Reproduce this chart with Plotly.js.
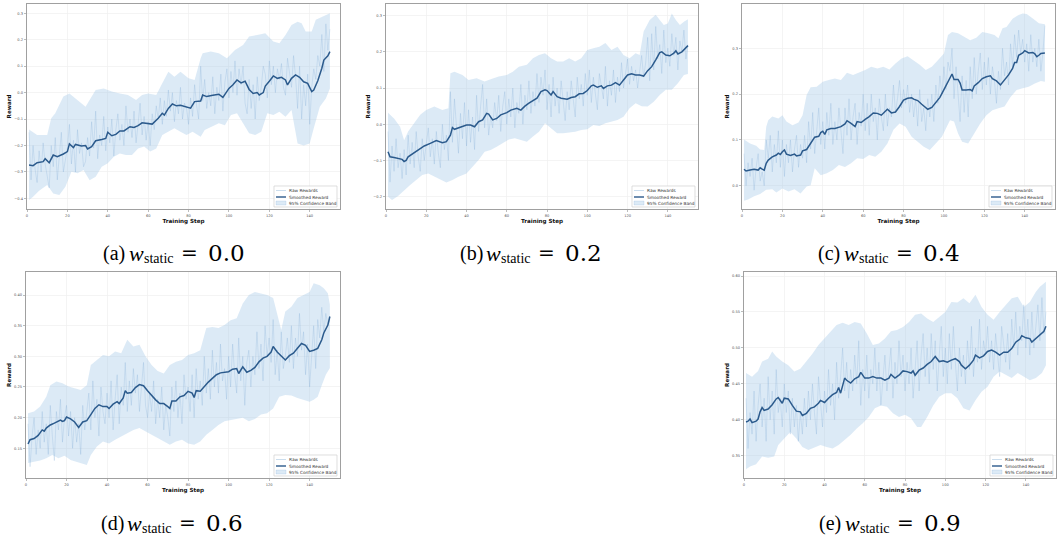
<!DOCTYPE html>
<html><head><meta charset="utf-8">
<script src="https://cdn.plot.ly/plotly-3.0.1.min.js"></script>
<style>html,body{margin:0;padding:0;background:#fff}#chart{width:1057px;height:537px}</style>
</head><body><div id="chart"></div>
<script>
// ---------------- DATA ----------------
const steps = Array.from({length:150},(_,i)=>i+1);
const xTicks = [0,20,40,60,80,100,120,140];
const captionLetters = ['(a)','(b)','(c)','(d)','(e)'];
const captionValues = ['0.0','0.2','0.4','0.6','0.9'];
const seriesNames = ['Raw Rewards','Smoothed Reward','95% Confidence Band'];

// (a) w_static = 0.0
const rawA = [-0.15,-0.33,-0.2,-0.29,-0.34,-0.22,-0.3,-0.19,-0.27,-0.31,
-0.36,-0.2,-0.28,-0.17,-0.33,-0.24,-0.15,-0.3,-0.25,-0.21,
-0.12,-0.27,-0.18,-0.3,-0.14,-0.23,-0.19,-0.28,-0.26,-0.17,
-0.24,-0.11,-0.21,-0.07,-0.25,-0.16,-0.2,-0.09,-0.22,-0.13,
-0.19,-0.1,-0.24,-0.14,-0.08,-0.18,-0.12,-0.2,-0.05,-0.15,
-0.1,-0.17,-0.07,-0.19,-0.12,-0.04,-0.16,-0.09,-0.18,-0.11,
-0.2,-0.08,-0.14,-0.05,-0.1,-0.02,-0.12,-0.03,-0.09,0.01,
-0.07,0.0,-0.11,-0.03,-0.08,0.02,-0.1,-0.04,-0.06,-0.12,
-0.02,-0.09,0.03,-0.05,-0.1,0.1,-0.03,0.05,-0.06,0.0,
-0.05,0.06,-0.08,0.02,-0.03,0.07,-0.07,0.04,0.09,-0.02,
0.08,0.0,0.12,-0.01,0.09,0.03,0.1,-0.04,-0.08,0.05,
-0.06,0.03,-0.1,0.06,-0.03,0.02,0.1,0.07,-0.02,0.12,
0.03,0.1,0.0,0.09,0.05,0.11,0.02,-0.01,0.13,0.08,
0.02,0.14,0.06,-0.06,0.1,-0.1,0.03,-0.05,0.07,-0.12,
0.02,0.09,0.05,0.14,0.1,0.22,0.08,0.26,0.16,0.24];
const smoothA = [[1,-0.274],[3,-0.276],[5,-0.265],[8,-0.261],[9,-0.25],[11,-0.265],[13,-0.236],[15,-0.242],[18,-0.232],[20,-0.223],[21,-0.194],[23,-0.208],[24,-0.196],[27,-0.202],[29,-0.2],[30,-0.213],[32,-0.204],[34,-0.182],[37,-0.177],[39,-0.173],[40,-0.15],[42,-0.163],[44,-0.158],[46,-0.145],[48,-0.145],[51,-0.129],[53,-0.132],[55,-0.125],[57,-0.114],[59,-0.116],[62,-0.119],[65,-0.097],[67,-0.078],[68,-0.085],[70,-0.06],[72,-0.043],[74,-0.05],[76,-0.048],[79,-0.053],[81,-0.059],[83,-0.034],[86,-0.032],[87,-0.009],[89,-0.015],[92,-0.01],[95,-0.006],[97,-0.018],[100,0.016],[102,0.03],[104,0.048],[106,0.037],[108,0.043],[110,0.012],[112,-0.003],[114,0],[115,-0.009],[117,0],[118,0.025],[120,0.043],[122,0.063],[124,0.054],[126,0.058],[128,0.048],[129,0.029],[131,0.054],[133,0.067],[135,0.058],[137,0.041],[139,0.035],[141,0.004],[142,0.01],[144,0.045],[146,0.092],[147,0.123],[149,0.139],[150,0.155]];
const upperA = [[1,-0.139],[5,-0.16],[10,-0.16],[12,-0.097],[14,-0.078],[18,-0.015],[21,-0.003],[25,-0.028],[29,-0.053],[31,-0.028],[34,0.01],[38,0.016],[42,0.004],[46,-0.003],[50,-0.009],[54,-0.028],[57,-0.009],[60,-0.003],[64,-0.009],[67,0.035],[70,0.079],[73,0.06],[76,0.079],[80,0.054],[83,0.048],[86,0.13],[87,0.149],[91,0.155],[95,0.149],[99,0.13],[103,0.161],[107,0.18],[110,0.212],[114,0.218],[118,0.224],[122,0.193],[125,0.187],[128,0.218],[131,0.256],[134,0.268],[136,0.262],[138,0.231],[141,0.231],[143,0.275],[146,0.287],[148,0.294],[150,0.3]];
const lowerA = [[1,-0.406],[3,-0.394],[6,-0.371],[10,-0.349],[13,-0.381],[16,-0.387],[19,-0.356],[22,-0.299],[25,-0.305],[28,-0.293],[31,-0.331],[34,-0.318],[37,-0.28],[40,-0.267],[43,-0.242],[46,-0.23],[49,-0.236],[52,-0.236],[55,-0.211],[58,-0.204],[61,-0.223],[64,-0.211],[67,-0.16],[70,-0.148],[73,-0.135],[76,-0.148],[79,-0.16],[82,-0.148],[86,-0.167],[88,-0.141],[91,-0.129],[95,-0.116],[98,-0.123],[101,-0.085],[104,-0.078],[107,-0.116],[110,-0.154],[113,-0.16],[116,-0.148],[119,-0.078],[122,-0.085],[125,-0.072],[128,-0.091],[131,-0.066],[134,-0.192],[137,-0.2],[140,-0.192],[142,-0.135],[145,-0.053],[148,-0.022],[150,0.016]];

// (b) w_static = 0.2
const rawB = [-0.02,-0.16,-0.06,-0.13,-0.04,-0.12,-0.08,-0.15,-0.07,-0.14,
-0.03,-0.11,-0.05,-0.12,-0.02,-0.09,-0.13,-0.04,-0.1,-0.06,
-0.01,-0.09,-0.04,-0.11,-0.02,-0.08,-0.12,0.0,-0.07,-0.03,
-0.1,0.09,-0.05,0.07,-0.02,-0.08,0.03,-0.04,0.06,-0.06,
0.04,-0.05,0.02,-0.07,0.08,-0.02,0.05,0.11,-0.01,0.07,
-0.03,0.02,-0.01,0.06,0.01,0.08,-0.02,0.05,0.09,0.0,
0.07,0.02,0.1,-0.01,0.06,0.03,0.11,0.0,0.08,0.04,
0.12,0.03,0.09,0.05,0.14,0.06,0.13,0.08,0.15,0.04,
0.11,0.02,0.13,0.05,0.1,0.03,0.12,0.06,0.01,0.09,
0.04,0.12,0.06,0.02,0.13,0.07,0.11,0.05,0.14,0.08,
0.15,0.06,0.13,0.09,0.04,0.14,0.1,0.07,0.16,0.05,
0.12,0.08,0.15,0.06,0.13,0.09,0.17,0.1,0.14,0.18,
0.11,0.16,0.12,0.15,0.1,0.14,0.19,0.13,0.17,0.24,
0.12,0.25,0.15,0.27,0.18,0.22,0.14,0.26,0.17,0.21,
0.16,0.25,0.19,0.24,0.15,0.23,0.2,0.26,0.18,0.22];
const smoothB = [[1,-0.076],[2,-0.09],[4,-0.092],[6,-0.094],[8,-0.097],[9,-0.103],[10,-0.1],[11,-0.09],[13,-0.082],[16,-0.071],[19,-0.06],[22,-0.053],[25,-0.045],[28,-0.051],[30,-0.048],[32,-0.03],[33,-0.009],[34,-0.014],[37,-0.007],[40,-0.002],[42,-0.002],[44,-0.007],[46,0.007],[48,0.012],[50,0.03],[51,0.028],[53,0.012],[55,0.016],[57,0.026],[60,0.032],[62,0.039],[65,0.044],[67,0.039],[69,0.05],[71,0.058],[73,0.065],[75,0.072],[77,0.09],[79,0.095],[80,0.093],[82,0.081],[83,0.09],[85,0.076],[87,0.072],[90,0.069],[92,0.074],[94,0.076],[96,0.084],[98,0.085],[100,0.093],[102,0.106],[103,0.108],[105,0.102],[107,0.106],[108,0.099],[110,0.106],[112,0.108],[114,0.115],[116,0.108],[118,0.122],[120,0.136],[122,0.139],[124,0.136],[126,0.136],[128,0.133],[130,0.148],[132,0.159],[134,0.178],[136,0.198],[137,0.2],[139,0.191],[141,0.189],[143,0.196],[144,0.203],[145,0.194],[147,0.2],[149,0.212],[150,0.217]];
const upperB = [[1,0.032],[4,0.016],[7,-0.007],[9,-0.044],[11,-0.02],[14,0.003],[17,0.026],[20,0.039],[24,0.049],[28,0.039],[31,0.044],[32,0.141],[34,0.145],[38,0.136],[41,0.122],[45,0.127],[49,0.118],[52,0.124],[56,0.132],[60,0.136],[63,0.145],[66,0.159],[70,0.164],[73,0.182],[76,0.191],[79,0.196],[82,0.182],[85,0.173],[88,0.173],[91,0.182],[94,0.173],[97,0.182],[100,0.205],[103,0.21],[106,0.214],[109,0.224],[112,0.205],[115,0.214],[118,0.191],[121,0.182],[124,0.196],[126,0.191],[128,0.256],[131,0.288],[134,0.302],[136,0.288],[138,0.274],[140,0.278],[142,0.306],[144,0.288],[146,0.274],[148,0.283],[150,0.29]];
const lowerB = [[1,-0.2],[3,-0.209],[6,-0.198],[9,-0.182],[12,-0.168],[15,-0.154],[18,-0.14],[21,-0.136],[24,-0.145],[27,-0.154],[30,-0.161],[33,-0.154],[36,-0.145],[40,-0.136],[43,-0.117],[46,-0.099],[49,-0.076],[52,-0.071],[55,-0.062],[58,-0.053],[61,-0.042],[64,-0.039],[67,-0.044],[70,-0.048],[73,-0.034],[76,-0.021],[79,0.003],[82,-0.011],[85,-0.025],[88,-0.025],[91,-0.023],[94,-0.021],[97,-0.016],[100,-0.014],[103,-0.002],[106,-0.005],[109,0.003],[112,0.007],[115,0.012],[118,0.021],[121,0.044],[124,0.058],[127,0.05],[130,0.049],[133,0.062],[136,0.081],[139,0.095],[142,0.095],[145,0.113],[148,0.136],[150,0.139]];

// (c) w_static = 0.4
const rawC = [0.07,0.0,0.05,0.02,0.06,-0.01,0.04,0.07,0.01,0.03,
0.0,0.1,0.06,0.11,0.03,0.09,0.05,0.12,0.04,0.1,
0.02,0.09,0.05,0.1,0.03,0.08,0.11,0.04,0.09,0.06,
0.11,0.05,0.14,0.08,0.16,0.07,0.12,0.17,0.09,0.14,
0.08,0.16,0.11,0.18,0.09,0.14,0.1,0.17,0.12,0.07,
0.17,0.11,0.19,0.1,0.15,0.18,0.09,0.16,0.13,0.2,
0.12,0.18,0.11,0.2,0.14,0.17,0.1,0.19,0.15,0.12,
0.2,0.13,0.17,0.15,0.22,0.16,0.19,0.23,0.17,0.21,
0.18,0.22,0.16,0.2,0.15,0.19,0.13,0.21,0.14,0.17,
0.12,0.19,0.15,0.2,0.14,0.22,0.18,0.24,0.2,0.26,
0.21,0.27,0.25,0.3,0.19,0.26,0.2,0.14,0.24,0.16,
0.23,0.15,0.26,0.19,0.28,0.2,0.25,0.29,0.21,0.27,
0.22,0.28,0.2,0.26,0.23,0.18,0.25,0.21,0.3,0.24,
0.27,0.22,0.31,0.26,0.33,0.28,0.34,0.29,0.32,0.27,
0.31,0.25,0.33,0.27,0.3,0.26,0.32,0.25,0.29,0.35];
const smoothC = [[1,0.036],[2,0.032],[4,0.034],[6,0.036],[8,0.034],[9,0.039],[10,0.036],[11,0.034],[12,0.049],[13,0.056],[15,0.063],[17,0.067],[18,0.071],[19,0.068],[20,0.074],[21,0.078],[22,0.069],[24,0.066],[26,0.069],[27,0.065],[29,0.067],[30,0.076],[32,0.079],[34,0.094],[36,0.106],[38,0.108],[39,0.116],[40,0.119],[41,0.112],[42,0.122],[44,0.125],[46,0.125],[48,0.127],[49,0.129],[51,0.135],[52,0.142],[54,0.136],[56,0.129],[57,0.14],[59,0.138],[61,0.145],[63,0.151],[65,0.159],[67,0.158],[69,0.154],[71,0.162],[72,0.167],[74,0.159],[76,0.161],[78,0.173],[80,0.187],[82,0.191],[84,0.192],[85,0.189],[87,0.186],[89,0.178],[91,0.171],[92,0.167],[94,0.171],[96,0.183],[98,0.193],[100,0.21],[102,0.227],[104,0.244],[105,0.232],[107,0.232],[108,0.224],[109,0.209],[111,0.209],[113,0.21],[114,0.207],[115,0.218],[117,0.225],[119,0.234],[121,0.238],[123,0.24],[124,0.234],[126,0.229],[128,0.22],[130,0.231],[132,0.242],[134,0.256],[135,0.269],[136,0.269],[137,0.285],[139,0.29],[140,0.295],[142,0.29],[144,0.291],[145,0.288],[146,0.282],[147,0.285],[148,0.289],[150,0.29]];
const upperC = [[1,0.101],[4,0.092],[7,0.087],[9,0.079],[11,0.078],[12,0.129],[13,0.143],[15,0.151],[18,0.147],[20,0.154],[22,0.14],[25,0.132],[28,0.138],[30,0.154],[32,0.198],[34,0.215],[37,0.216],[40,0.227],[43,0.231],[46,0.234],[49,0.231],[52,0.247],[55,0.242],[58,0.247],[61,0.253],[64,0.26],[67,0.256],[70,0.26],[73,0.254],[76,0.267],[79,0.278],[82,0.283],[85,0.274],[88,0.264],[91,0.253],[94,0.26],[97,0.274],[100,0.289],[102,0.329],[104,0.336],[107,0.333],[110,0.325],[113,0.318],[116,0.323],[119,0.336],[122,0.333],[125,0.329],[127,0.322],[129,0.344],[131,0.347],[134,0.365],[137,0.373],[139,0.376],[141,0.375],[143,0.369],[145,0.362],[147,0.355],[150,0.353]];
const lowerC = [[1,-0.033],[3,-0.03],[6,-0.023],[9,-0.018],[12,-0.009],[15,-0.008],[17,-0.015],[20,-0.006],[23,-0.013],[26,-0.008],[29,-0.017],[32,-0.002],[34,0.001],[36,0.038],[39,0.023],[42,0.027],[45,0.034],[48,0.045],[51,0.041],[54,0.049],[57,0.06],[60,0.058],[63,0.067],[66,0.063],[69,0.074],[72,0.092],[75,0.122],[78,0.136],[81,0.129],[84,0.107],[87,0.096],[90,0.085],[93,0.078],[96,0.092],[99,0.107],[101,0.125],[103,0.143],[105,0.14],[107,0.114],[109,0.096],[112,0.092],[115,0.114],[118,0.136],[121,0.154],[124,0.165],[127,0.169],[130,0.173],[133,0.194],[136,0.209],[139,0.213],[142,0.216],[145,0.223],[148,0.229],[150,0.227]];

// (d) w_static = 0.6
const rawD = [0.19,0.12,0.17,0.2,0.14,0.18,0.15,0.21,0.16,0.19,
0.14,0.22,0.17,0.13,0.21,0.18,0.23,0.16,0.2,0.22,
0.17,0.21,0.15,0.2,0.16,0.19,0.14,0.22,0.18,0.21,
0.24,0.18,0.26,0.2,0.23,0.17,0.25,0.21,0.19,0.24,
0.2,0.26,0.18,0.23,0.27,0.19,0.25,0.22,0.29,0.21,
0.26,0.22,0.28,0.24,0.27,0.21,0.25,0.29,0.22,0.2,
0.24,0.21,0.26,0.19,0.23,0.2,0.25,0.18,0.22,0.2,
0.17,0.25,0.21,0.26,0.2,0.24,0.19,0.27,0.23,0.25,
0.21,0.27,0.2,0.28,0.23,0.26,0.22,0.3,0.24,0.28,
0.23,0.31,0.25,0.29,0.24,0.32,0.26,0.28,0.23,0.3,
0.25,0.32,0.27,0.24,0.33,0.26,0.3,0.22,0.29,0.31,
0.25,0.3,0.27,0.34,0.28,0.32,0.26,0.35,0.3,0.33,
0.29,0.36,0.27,0.31,0.26,0.34,0.28,0.3,0.33,0.29,
0.35,0.28,0.33,0.3,0.37,0.31,0.34,0.27,0.32,0.25,
0.3,0.35,0.28,0.36,0.33,0.38,0.34,0.37,0.35,0.36];
const smoothD = [[1,0.157],[2,0.164],[4,0.166],[6,0.171],[8,0.18],[9,0.178],[10,0.183],[12,0.188],[14,0.191],[16,0.194],[17,0.196],[18,0.194],[19,0.195],[20,0.201],[22,0.198],[24,0.193],[26,0.184],[28,0.193],[30,0.195],[32,0.205],[34,0.215],[36,0.221],[38,0.218],[40,0.218],[41,0.215],[43,0.222],[45,0.226],[46,0.223],[48,0.232],[49,0.244],[50,0.24],[52,0.241],[54,0.249],[56,0.254],[58,0.252],[60,0.244],[62,0.236],[64,0.229],[66,0.223],[68,0.223],[70,0.218],[71,0.215],[72,0.227],[74,0.227],[76,0.234],[78,0.236],[80,0.243],[82,0.24],[83,0.233],[84,0.244],[86,0.243],[88,0.251],[90,0.258],[92,0.264],[94,0.27],[96,0.273],[98,0.274],[100,0.275],[102,0.279],[104,0.28],[105,0.272],[107,0.283],[109,0.274],[111,0.277],[113,0.282],[115,0.291],[117,0.297],[119,0.3],[121,0.307],[122,0.316],[124,0.307],[126,0.301],[128,0.294],[130,0.301],[132,0.305],[134,0.313],[136,0.321],[138,0.318],[140,0.308],[142,0.31],[144,0.313],[146,0.327],[147,0.338],[149,0.351],[150,0.365]];
const upperD = [[1,0.207],[4,0.21],[7,0.218],[10,0.234],[12,0.253],[15,0.259],[18,0.256],[21,0.251],[24,0.248],[27,0.245],[30,0.253],[32,0.286],[35,0.294],[38,0.302],[41,0.3],[44,0.308],[47,0.305],[50,0.327],[53,0.316],[56,0.319],[59,0.3],[62,0.286],[65,0.276],[68,0.272],[71,0.286],[74,0.291],[77,0.294],[80,0.302],[83,0.305],[86,0.31],[89,0.346],[92,0.348],[95,0.346],[98,0.351],[101,0.359],[104,0.362],[107,0.386],[110,0.4],[113,0.405],[116,0.402],[119,0.4],[122,0.395],[124,0.367],[126,0.343],[128,0.373],[131,0.381],[134,0.395],[137,0.4],[140,0.405],[142,0.419],[145,0.416],[147,0.411],[149,0.403],[150,0.384]];
const lowerD = [[1,0.126],[4,0.128],[7,0.13],[10,0.134],[13,0.139],[16,0.134],[19,0.138],[22,0.131],[25,0.128],[28,0.124],[30,0.123],[32,0.139],[35,0.153],[38,0.161],[41,0.158],[44,0.164],[47,0.169],[50,0.175],[53,0.18],[56,0.183],[59,0.177],[62,0.172],[65,0.167],[68,0.162],[71,0.156],[74,0.161],[77,0.164],[80,0.158],[83,0.156],[86,0.161],[89,0.172],[92,0.18],[95,0.188],[98,0.194],[101,0.196],[104,0.199],[107,0.2],[110,0.194],[113,0.198],[116,0.205],[119,0.207],[122,0.215],[125,0.234],[128,0.237],[131,0.236],[134,0.232],[137,0.229],[140,0.226],[142,0.229],[144,0.234],[146,0.253],[148,0.27],[150,0.281]];

// (e) w_static = 0.9
const rawE = [0.43,0.36,0.41,0.38,0.44,0.37,0.42,0.45,0.39,0.43,
0.37,0.46,0.4,0.44,0.38,0.47,0.41,0.43,0.39,0.45,
0.41,0.44,0.38,0.43,0.39,0.42,0.37,0.41,0.38,0.43,
0.39,0.44,0.4,0.45,0.41,0.38,0.46,0.42,0.39,0.44,
0.41,0.47,0.42,0.45,0.4,0.48,0.43,0.46,0.5,0.44,
0.48,0.43,0.47,0.44,0.49,0.45,0.51,0.42,0.47,0.44,
0.49,0.43,0.47,0.45,0.5,0.44,0.48,0.42,0.46,0.49,
0.44,0.47,0.5,0.43,0.48,0.45,0.51,0.46,0.49,0.44,
0.48,0.45,0.5,0.43,0.47,0.51,0.44,0.49,0.52,0.46,
0.5,0.45,0.52,0.47,0.51,0.44,0.49,0.53,0.46,0.5,
0.45,0.52,0.47,0.53,0.48,0.44,0.5,0.46,0.49,0.45,
0.51,0.47,0.53,0.46,0.5,0.48,0.54,0.47,0.51,0.49,
0.53,0.48,0.51,0.47,0.52,0.49,0.46,0.53,0.5,0.48,
0.52,0.47,0.54,0.5,0.55,0.49,0.53,0.51,0.56,0.5,
0.54,0.49,0.55,0.5,0.53,0.56,0.51,0.57,0.52,0.55];
const smoothE = [[1,0.397],[2,0.398],[3,0.401],[4,0.396],[6,0.398],[7,0.401],[8,0.411],[9,0.417],[10,0.413],[12,0.415],[14,0.421],[16,0.429],[17,0.431],[19,0.423],[20,0.43],[22,0.429],[24,0.42],[26,0.412],[28,0.411],[29,0.406],[31,0.409],[33,0.416],[35,0.418],[37,0.423],[38,0.427],[40,0.424],[42,0.43],[44,0.435],[46,0.438],[47,0.445],[48,0.437],[49,0.448],[50,0.458],[51,0.455],[53,0.451],[55,0.457],[57,0.46],[58,0.466],[60,0.458],[62,0.458],[64,0.46],[66,0.458],[68,0.458],[70,0.455],[72,0.458],[73,0.463],[75,0.458],[77,0.462],[79,0.468],[81,0.467],[83,0.465],[84,0.468],[85,0.462],[87,0.469],[89,0.472],[91,0.477],[93,0.481],[95,0.488],[97,0.481],[99,0.482],[101,0.48],[103,0.483],[105,0.485],[107,0.481],[108,0.476],[110,0.471],[112,0.476],[114,0.483],[115,0.49],[117,0.486],[119,0.489],[121,0.495],[123,0.497],[125,0.494],[127,0.49],[129,0.494],[131,0.494],[133,0.499],[135,0.508],[137,0.512],[138,0.517],[140,0.514],[142,0.513],[143,0.508],[145,0.513],[147,0.518],[149,0.523],[150,0.53]];
const upperE = [[1,0.465],[4,0.46],[7,0.468],[9,0.481],[12,0.485],[14,0.495],[16,0.488],[19,0.481],[22,0.476],[25,0.467],[28,0.471],[31,0.481],[34,0.492],[37,0.504],[40,0.513],[43,0.523],[46,0.532],[49,0.535],[52,0.532],[55,0.536],[58,0.534],[61,0.52],[64,0.504],[67,0.506],[70,0.513],[73,0.523],[76,0.525],[79,0.529],[82,0.536],[85,0.546],[88,0.548],[91,0.541],[94,0.536],[97,0.543],[100,0.55],[103,0.564],[106,0.563],[109,0.569],[112,0.562],[115,0.574],[118,0.557],[121,0.546],[124,0.539],[127,0.55],[130,0.56],[133,0.569],[136,0.571],[139,0.557],[142,0.564],[145,0.578],[147,0.585],[150,0.592]];
const lowerE = [[1,0.331],[3,0.335],[6,0.338],[9,0.349],[12,0.347],[15,0.349],[17,0.365],[20,0.374],[23,0.383],[26,0.374],[29,0.362],[32,0.358],[35,0.361],[38,0.365],[41,0.362],[44,0.36],[47,0.365],[50,0.372],[53,0.379],[56,0.388],[59,0.395],[62,0.404],[65,0.416],[68,0.42],[71,0.418],[74,0.409],[77,0.404],[80,0.407],[83,0.402],[86,0.39],[88,0.39],[91,0.404],[94,0.42],[97,0.432],[100,0.437],[103,0.437],[106,0.43],[109,0.416],[112,0.413],[115,0.427],[118,0.439],[121,0.446],[124,0.46],[127,0.467],[130,0.462],[133,0.458],[136,0.465],[139,0.46],[142,0.455],[145,0.458],[148,0.465],[150,0.476]];

// ---------------- LAYOUT / STYLE ----------------
const W = 1057, H = 537;
const BAND = 'rgba(155,195,230,0.35)';
const RAW = 'rgba(110,160,205,0.3)';
const SMOOTH = '#2b5a8c';
const FRAME = '#a0a0a0';
const FONT = 'DejaVu Sans, sans-serif';
const SERIF = 'Liberation Serif, Times New Roman, serif';
const MATH = 'DejaVu Serif, serif';

const panels = [
  {raw:rawA, sm:smoothA, up:upperA, lo:lowerA, yr:[-0.44,0.335], dt:0.1, fmt:'.1f', box:{l:27,r:340,t:4,b:209}, cap:[102,253]},
  {raw:rawB, sm:smoothB, up:upperB, lo:lowerB, yr:[-0.234,0.332], dt:0.1, fmt:'.1f', box:{l:386,r:698,t:4,b:209}, cap:[459,253]},
  {raw:rawC, sm:smoothC, up:upperC, lo:lowerC, yr:[-0.051,0.397], dt:0.1, fmt:'.1f', box:{l:742,r:1055,t:4,b:209}, cap:[817,253]},
  {raw:rawD, sm:smoothD, up:upperD, lo:lowerD, yr:[0.1016,0.4375], dt:0.05, fmt:'.2f', box:{l:26,r:340,t:272,b:478}, cap:[100,523]},
  {raw:rawE, sm:smoothE, up:upperE, lo:lowerE, yr:[0.319,0.6056], dt:0.05, fmt:'.2f', box:{l:744,r:1056,t:272,b:478}, cap:[818,523]}
];

const px = v => v / W, py = v => 1 - v / H;
const traces = [], shapes = [], annotations = [];
const layout = {
  width: W, height: H, margin: {l:0, r:0, t:0, b:0},
  paper_bgcolor: '#fff', plot_bgcolor: '#fff', showlegend: false,
  font: {family: FONT, color: '#333'}
};
const ann = (x, y, text, font, xanchor) => ({xref: 'paper', yref: 'paper', x: px(x), y: py(y), xanchor: xanchor || 'left', yanchor: 'middle', showarrow: false, borderpad: 0, text: text, font: font});

panels.forEach((p, i) => {
  const n = i === 0 ? '' : String(i + 1);
  const xa = 'x' + n, ya = 'y' + n;
  const b = p.box;
  traces.push({x: p.lo.map(d => d[0]), y: p.lo.map(d => d[1]), xaxis: xa, yaxis: ya, mode: 'lines', line: {width: 0, color: 'rgba(0,0,0,0)'}, hoverinfo: 'skip', name: 'lower'});
  traces.push({x: p.up.map(d => d[0]), y: p.up.map(d => d[1]), xaxis: xa, yaxis: ya, mode: 'lines', fill: 'tonexty', fillcolor: BAND, line: {width: 0, color: 'rgba(0,0,0,0)'}, name: seriesNames[2]});
  traces.push({x: steps, y: p.raw, xaxis: xa, yaxis: ya, mode: 'lines', line: {color: RAW, width: 0.7}, name: seriesNames[0]});
  traces.push({x: p.sm.map(d => d[0]), y: p.sm.map(d => d[1]), xaxis: xa, yaxis: ya, mode: 'lines', line: {color: SMOOTH, width: 1.5}, name: seriesNames[1]});

  const common = {showline: true, mirror: true, linecolor: FRAME, linewidth: 1.2, ticks: 'outside', ticklen: 2, tickwidth: 0.7, tickcolor: FRAME,
    tickfont: {size: 3.6, color: '#555', family: FONT}, showgrid: true, gridcolor: '#efefef', gridwidth: 0.7, zeroline: false, automargin: false};
  layout['xaxis' + n] = Object.assign({}, common, {domain: [px(b.l), px(b.r)], anchor: ya, range: [0, 155], tickvals: xTicks,
    title: {text: 'Training Step', font: {size: 5.6, color: '#111', family: FONT, weight: 'bold'}, standoff: 2}});
  layout['yaxis' + n] = Object.assign({}, common, {domain: [py(b.b), py(b.t)], anchor: xa, range: p.yr, dtick: p.dt, tick0: 0, tickformat: p.fmt,
    title: {text: 'Reward', font: {size: 5.6, color: '#111', family: FONT, weight: 'bold'}, standoff: 2}});

  // legend box (bottom right)
  const xr = b.r - 3, xl = xr - 63, yb = b.b - 2, yt = yb - 21;
  shapes.push({type: 'rect', xref: 'paper', yref: 'paper', x0: px(xl), x1: px(xr), y0: py(yb), y1: py(yt), fillcolor: 'rgba(255,255,255,0.85)', line: {color: '#d0d0d0', width: 0.7}});
  const rows = [yt + 4.5, yt + 11, yt + 17];
  shapes.push({type: 'line', xref: 'paper', yref: 'paper', x0: px(xl + 2), x1: px(xl + 12), y0: py(rows[0]), y1: py(rows[0]), line: {color: 'rgba(110,160,205,0.45)', width: 0.8}});
  shapes.push({type: 'line', xref: 'paper', yref: 'paper', x0: px(xl + 2), x1: px(xl + 12), y0: py(rows[1]), y1: py(rows[1]), line: {color: SMOOTH, width: 1.4}});
  shapes.push({type: 'rect', xref: 'paper', yref: 'paper', x0: px(xl + 2), x1: px(xl + 12), y0: py(rows[2] + 2), y1: py(rows[2] - 2), fillcolor: BAND, line: {color: 'rgba(120,165,210,0.5)', width: 0.4}});
  seriesNames.forEach((s, k) => annotations.push(ann(xl + 14, rows[k], s, {size: 4.3, color: '#333', family: FONT})));

  // caption: "(x) w_static = v"
  const L = p.cap[0], Y = p.cap[1];
  annotations.push(ann(L, Y, captionLetters[i], {size: 20, color: '#000', family: SERIF}));
  annotations.push(ann(L + 26, Y, 'w', {size: 22, color: '#000', family: SERIF, style: 'italic'}));
  annotations.push(ann(L + 41, Y + 5, 'static', {size: 14, color: '#000', family: SERIF}));
  annotations.push(ann(L + 78, Y, '=', {size: 20, color: '#000', family: MATH}));
  annotations.push(ann(L + 105, Y, captionValues[i], {size: 23, color: '#000', family: MATH}));
});

layout.shapes = shapes;
layout.annotations = annotations;
Plotly.newPlot('chart', traces, layout, {displayModeBar: false, staticPlot: true});
</script>
</body></html>
